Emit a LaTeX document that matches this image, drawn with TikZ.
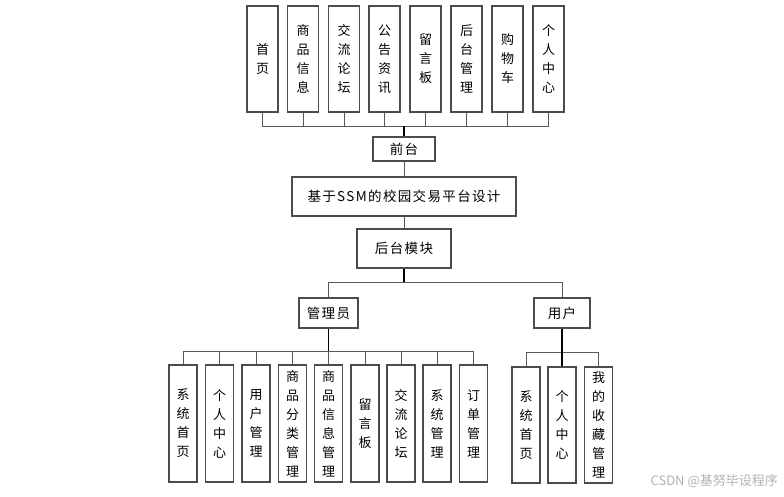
\documentclass[tikz,border=0pt]{standalone}
\usepackage{fontspec}
\setmainfont{Noto Sans CJK SC}
\begin{document}
\begin{tikzpicture}[x=1pt,y=-1pt,
  box/.style={draw=black!70,line width=1.1pt,fill=white,inner sep=0pt,align=center,font=\fontsize{13}{19}\selectfont},
  topbox/.style={box,minimum width=31pt,minimum height=106pt},
  abox/.style={box,minimum width=28pt,minimum height=117pt},
  ubox/.style={box,minimum width=28pt,minimum height=116pt},
  wbox/.style={box,minimum height=24pt,font=\fontsize{13.5}{15}\selectfont\addfontfeature{LetterSpace=10}},
  conn/.style={draw=black!65,line width=1pt},
  trunk/.style={draw=black,line width=1.4pt}]
\useasboundingbox (0,0) rectangle (784,496);
% top row
\node[topbox] (t1) at (262.5,59) {首\\页};
\node[topbox] (t2) at (303,59) {商\\品\\信\\息};
\node[topbox] (t3) at (344,59) {交\\流\\论\\坛};
\node[topbox] (t4) at (384.5,59) {公\\告\\资\\讯};
\node[topbox] (t5) at (425.5,59) {留\\言\\板};
\node[topbox] (t6) at (466.5,59) {后\\台\\管\\理};
\node[topbox] (t7) at (507.5,59) {购\\物\\车};
\node[topbox] (t8) at (548.5,59) {个\\人\\中\\心};
% middle
\node[wbox,minimum width=62pt] (front) at (404,149) {前台};
\node[wbox,minimum width=224pt,minimum height=39pt] (title) at (404,196.5) {基于SSM的校园交易平台设计};
\node[wbox,minimum width=94pt,minimum height=39pt] (back) at (404,248.5) {后台模块};
\node[wbox,minimum width=59pt,minimum height=30pt] (admin) at (328.5,313) {管理员};
\node[wbox,minimum width=56pt,minimum height=30pt] (user) at (562,313) {用户};
% admin children
\node[abox] (a1) at (183,423.5) {系\\统\\首\\页};
\node[abox] (a2) at (219.5,423.5) {个\\人\\中\\心};
\node[abox] (a3) at (256,423.5) {用\\户\\管\\理};
\node[abox] (a4) at (292.5,423.5) {商\\品\\分\\类\\管\\理};
\node[abox] (a5) at (328.5,423.5) {商\\品\\信\\息\\管\\理};
\node[abox] (a6) at (365,423.5) {留\\言\\板};
\node[abox] (a7) at (401,423.5) {交\\流\\论\\坛};
\node[abox] (a8) at (437,423.5) {系\\统\\管\\理};
\node[abox] (a9) at (473.5,423.5) {订\\单\\管\\理};
% user children
\node[ubox] (u1) at (526,425) {系\\统\\首\\页};
\node[ubox] (u2) at (562,425) {个\\人\\中\\心};
\node[ubox] (u3) at (598.5,425) {我\\的\\收\\藏\\管\\理};
% bus coordinates
\coordinate (bus1) at (404,126);
\coordinate (bus2) at (404,282);
\coordinate (bus3) at (328.5,351);
\coordinate (bus4) at (562,352);
% connectors
\foreach \i in {1,...,8} {\draw[conn] (t\i.south) |- (bus1);}
\draw[trunk] (bus1) -- (front.north);
\draw[conn] (front.south) -- (title.north);
\draw[conn] (title.south) -- (back.north);
\draw[trunk] (back.south) -- (bus2);
\draw[conn] (admin.north) |- (bus2);
\draw[conn] (user.north) |- (bus2);
\foreach \i in {1,...,9} {\draw[conn] (a\i.north) |- (bus3);}
\draw[trunk] (admin.south) -- (bus3);
\draw[conn] (u1.north) |- (bus4);
\draw[conn] (u3.north) |- (bus4);
\draw[trunk] (user.south) -- (u2.north);
% watermark
\node[text=black!30,font=\fontsize{13}{15}\selectfont,anchor=east,inner sep=0pt] (wm) at (778,481) {CSDN @基努毕设程序};
\end{tikzpicture}
\end{document}
